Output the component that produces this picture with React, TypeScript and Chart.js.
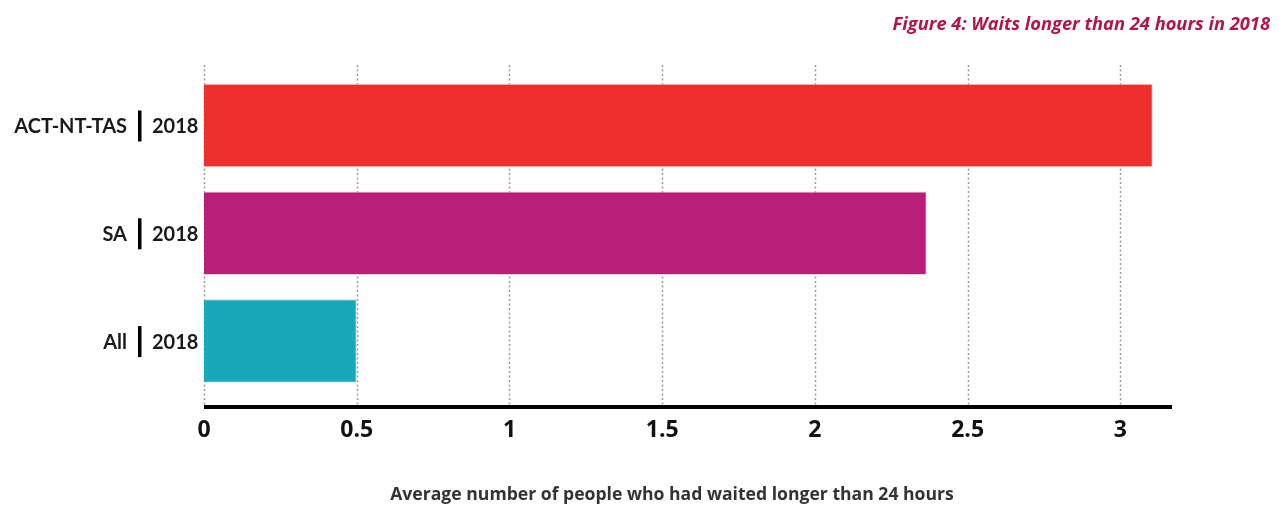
import React, { useEffect, useRef } from "react";
import { Chart, registerables } from "chart.js";

Chart.register(...registerables);

const categories = ["ACT-NT-TAS", "SA", "All"];
const yearLabel = "2018";
const values = [3.106, 2.366, 0.5];
const barColors = ["#ee2f2d", "#b91e78", "#17a9bb"];
const tickValues = [0, 0.5, 1, 1.5, 2, 2.5, 3];
const tickLabels = ["0", "0.5", "1", "1.5", "2", "2.5", "3"];
const xMax = 3.169;
const titleText = "Figure 4: Waits longer than 24 hours in 2018";
const axisTitle = "Average number of people who had waited longer than 24 hours";

const W = 1279;
const H = 507;

// Custom drawing: dotted grid, heavy baseline, tick labels, split category labels, titles
const decorations = {
  id: "decorations",
  beforeDatasetsDraw(chart: any) {
    const { ctx, scales } = chart;
    const x = scales.x;
    ctx.save();
    ctx.strokeStyle = "#9a9a9a";
    ctx.lineWidth = 1.5;
    ctx.setLineDash([2, 2.5]);
    tickValues.forEach((v) => {
      const px = Math.round(x.getPixelForValue(v)) + 0.5;
      ctx.beginPath();
      ctx.moveTo(px, 65);
      ctx.lineTo(px, 405);
      ctx.stroke();
    });
    ctx.restore();
  },
  afterDraw(chart: any) {
    const { ctx, scales } = chart;
    const x = scales.x;
    const y = scales.y;
    ctx.save();

    // baseline
    ctx.fillStyle = "#000";
    const x0 = x.getPixelForValue(0);
    const x1 = x.getPixelForValue(xMax);
    ctx.fillRect(x0, 405, x1 - x0, 4);

    // tick labels
    ctx.font = "bold 23px 'Open Sans'";
    ctx.textAlign = "center";
    ctx.textBaseline = "middle";
    ctx.fillStyle = "#111";
    tickValues.forEach((v, i) => {
      ctx.fillText(tickLabels[i], x.getPixelForValue(v), 430);
    });

    // category labels: name | year
    categories.forEach((c, i) => {
      const cy = y.getPixelForValue(i);
      ctx.font = "bold 20px Lato";
      ctx.textBaseline = "middle";
      ctx.fillStyle = "#1a1a1a";
      ctx.textAlign = "left";
      ctx.fillText(yearLabel, 152, cy + 1);
      ctx.textAlign = "right";
      ctx.fillText(c, 127, cy + 1);
      ctx.fillStyle = "#000";
      ctx.fillRect(138, cy - 15, 3.5, 31);
    });

    // figure title
    ctx.font = "italic bold 18.3px 'Open Sans'";
    ctx.fillStyle = "#b5134b";
    ctx.textAlign = "right";
    ctx.textBaseline = "middle";
    ctx.fillText(titleText, 1270, 25);

    // axis title
    ctx.font = "bold 17.6px 'Open Sans'";
    ctx.fillStyle = "#333";
    ctx.textAlign = "center";
    ctx.fillText(axisTitle, 672, 495);

    ctx.restore();
  },
};

export default function App() {
  const canvasRef = useRef<HTMLCanvasElement | null>(null);

  useEffect(() => {
    if (!canvasRef.current) return;
    const chart = new Chart(canvasRef.current, {
      type: "bar",
      data: {
        labels: categories,
        datasets: [
          {
            data: values,
            backgroundColor: barColors,
            borderColor: "#d8d8d8",
            borderWidth: 1,
            categoryPercentage: 1,
            barPercentage: 0.775,
          },
        ],
      },
      options: {
        indexAxis: "y",
        animation: false,
        responsive: true,
        maintainAspectRatio: false,
        layout: { padding: { left: 204, right: W - 1172, top: 71.6, bottom: H - 395 } },
        plugins: {
          legend: { display: false },
          tooltip: { enabled: false },
          title: { display: false },
        },
        scales: {
          x: { type: "linear", min: 0, max: xMax, display: false },
          y: { type: "category", display: false, offset: true },
        },
      },
      plugins: [decorations],
    });
    return () => chart.destroy();
  }, []);

  return (
    <div style={{ position: "fixed", left: 0, top: 0, width: W, height: H, background: "#fff" }}>
      <canvas ref={canvasRef} />
    </div>
  );
}
